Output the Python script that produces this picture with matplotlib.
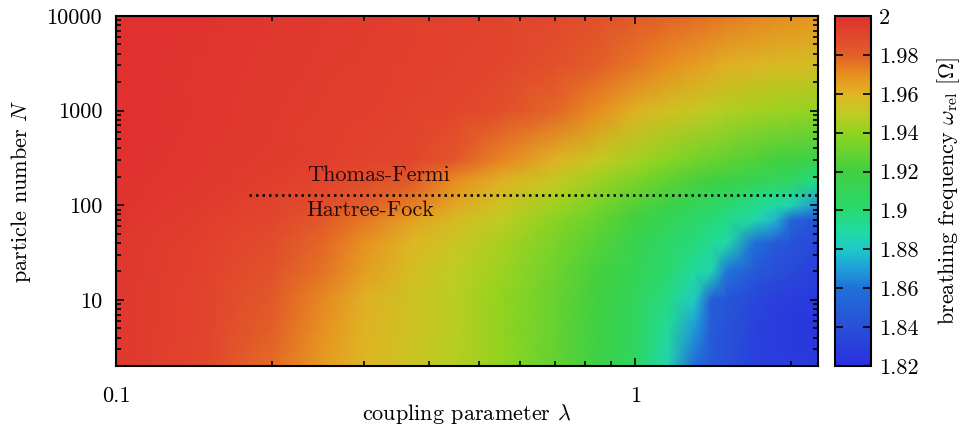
import numpy as np
import matplotlib
matplotlib.use('Agg')
import matplotlib.pyplot as plt
from matplotlib.colors import LinearSegmentedColormap
from matplotlib.ticker import FixedLocator, NullFormatter, FixedFormatter

plt.rcParams['font.family'] = 'serif'
plt.rcParams['font.serif'] = ['cmr10']
plt.rcParams['mathtext.fontset'] = 'cm'
plt.rcParams['axes.formatter.use_mathtext'] = True
plt.rcParams['font.size'] = 16

# grid
lam = [0.1, 0.15, 0.2, 0.25, 0.3, 0.37, 0.45, 0.55, 0.7, 0.85,
       1.0, 1.15, 1.3, 1.4, 1.5, 1.7, 1.85, 2.0, 2.25]
npart = [2, 5, 10, 20, 40, 70, 100, 180, 300, 1000, 3000, 10000]
# breathing frequency, rows = N, cols = lambda
omega = [
    [1.9960, 1.9905, 1.9774, 1.9669, 1.9591, 1.9533, 1.9479, 1.9403, 1.9284, 1.9170,
     1.9063, 1.8874, 1.8563, 1.8458, 1.8402, 1.8300, 1.8290, 1.8283, 1.8270],
    [1.9960, 1.9909, 1.9798, 1.9692, 1.9600, 1.9537, 1.9480, 1.9405, 1.9291, 1.9181,
     1.9072, 1.8920, 1.8690, 1.8470, 1.8420, 1.8320, 1.8280, 1.8265, 1.8245],
    [1.9960, 1.9913, 1.9823, 1.9716, 1.9609, 1.9541, 1.9482, 1.9408, 1.9299, 1.9193,
     1.9083, 1.8961, 1.8817, 1.8490, 1.8441, 1.8345, 1.8296, 1.8281, 1.8260],
    [1.9970, 1.9922, 1.9855, 1.9759, 1.9656, 1.9563, 1.9498, 1.9424, 1.9312, 1.9212,
     1.9110, 1.9013, 1.8915, 1.8855, 1.8608, 1.8449, 1.8403, 1.8362, 1.8300],
    [1.9970, 1.9926, 1.9878, 1.9783, 1.9695, 1.9591, 1.9525, 1.9456, 1.9343, 1.9250,
     1.9142, 1.9050, 1.8974, 1.8928, 1.8886, 1.8596, 1.8464, 1.8419, 1.8350],
    [1.9980, 1.9936, 1.9905, 1.9826, 1.9750, 1.9650, 1.9567, 1.9494, 1.9388, 1.9290,
     1.9197, 1.9107, 1.9032, 1.8990, 1.8952, 1.8882, 1.8766, 1.8528, 1.8420],
    [1.9990, 1.9946, 1.9915, 1.9872, 1.9811, 1.9736, 1.9634, 1.9542, 1.9436, 1.9335,
     1.9250, 1.9167, 1.9094, 1.9050, 1.9011, 1.8942, 1.8894, 1.8850, 1.8680],
    [1.9990, 1.9960, 1.9930, 1.9910, 1.9880, 1.9820, 1.9700, 1.9600, 1.9510, 1.9420,
     1.9350, 1.9280, 1.9220, 1.9190, 1.9170, 1.9120, 1.9080, 1.9050, 1.8950],
    [2.0000, 1.9971, 1.9950, 1.9934, 1.9921, 1.9906, 1.9833, 1.9722, 1.9600, 1.9511,
     1.9438, 1.9380, 1.9330, 1.9300, 1.9278, 1.9239, 1.9212, 1.9187, 1.9150],
    [2.0000, 1.9975, 1.9957, 1.9943, 1.9932, 1.9919, 1.9907, 1.9868, 1.9787, 1.9699,
     1.9600, 1.9555, 1.9516, 1.9492, 1.9471, 1.9441, 1.9430, 1.9417, 1.9400],
    [2.0000, 1.9978, 1.9962, 1.9950, 1.9940, 1.9928, 1.9918, 1.9907, 1.9862, 1.9801,
     1.9750, 1.9702, 1.9660, 1.9635, 1.9611, 1.9588, 1.9577, 1.9566, 1.9550],
    [2.0000, 1.9980, 1.9965, 1.9954, 1.9944, 1.9934, 1.9924, 1.9914, 1.9901, 1.9863,
     1.9827, 1.9795, 1.9768, 1.9754, 1.9741, 1.9722, 1.9710, 1.9698, 1.9680],
]

cb_ticks = [1.82, 1.84, 1.86, 1.88, 1.9, 1.92, 1.94, 1.96, 1.98, 2.0]
cb_labels = ['1.82', '1.84', '1.86', '1.88', '1.9', '1.92', '1.94', '1.96', '1.98', '2']

tf_hf_N = 128
tf_hf_lam = [0.18, 2.25]

vmin, vmax = 1.82, 2.0
stops = [(1.82, '#2a30e0'), (1.84, '#2850d8'), (1.86, '#2070d8'), (1.87, '#20a0d8'),
         (1.88, '#20c8c8'), (1.89, '#20dca0'), (1.90, '#28d870'), (1.92, '#40d040'),
         (1.94, '#90d420'), (1.95, '#c0cc22'), (1.96, '#e0b424'), (1.97, '#e89020'),
         (1.98, '#e26028'), (2.0, '#e03030')]
cmap = LinearSegmentedColormap.from_list(
    'gp', [((v - vmin) / (vmax - vmin), c) for v, c in stops])

fig = plt.figure(figsize=(9.63, 4.32), dpi=100)
ax = fig.add_axes([116/963, 66/432, 702/963, 350/432])
cax = fig.add_axes([835/963, 66/432, 36/963, 350/432])

L, NN = np.meshgrid(lam, npart)
mesh = ax.pcolormesh(L, NN, np.array(omega), shading='gouraud', cmap=cmap,
                     vmin=vmin, vmax=vmax, rasterized=True)
ax.set_xscale('log')
ax.set_yscale('log')
ax.set_xlim(0.1, 2.25)
ax.set_ylim(2, 10000)

ax.plot(tf_hf_lam, [tf_hf_N, tf_hf_N], color='black', lw=1.8,
        linestyle=(0, (1, 1.6)))
ax.text(0.233, 165, 'Thomas-Fermi', ha='left', va='bottom', color='#2a0a0a')
ax.text(0.233, 112, 'Hartree-Fock', ha='left', va='top', color='#2a0a0a')

ax.xaxis.set_major_locator(FixedLocator([0.1, 1]))
ax.xaxis.set_major_formatter(FixedFormatter(['0.1', '1']))
ax.yaxis.set_major_locator(FixedLocator([10, 100, 1000, 10000]))
ax.yaxis.set_major_formatter(FixedFormatter(['10', '100', '1000', '10000']))
ax.xaxis.set_minor_formatter(NullFormatter())
ax.yaxis.set_minor_formatter(NullFormatter())
ax.tick_params(which='both', direction='in', top=True, right=True, width=1.2)
ax.tick_params(which='major', length=6)
ax.tick_params(which='minor', length=3.5)
ax.tick_params(axis='x', which='major', pad=15)
ax.tick_params(axis='y', which='major', pad=10)
for s in ax.spines.values():
    s.set_linewidth(1.5)

ax.set_xlabel(r'coupling parameter $\lambda$', labelpad=-3)
ax.set_ylabel(r'particle number $N$', labelpad=10)

cbar = fig.colorbar(mesh, cax=cax)
cbar.set_ticks(cb_ticks)
cbar.set_ticklabels(cb_labels)
cbar.ax.tick_params(direction='in', left=True, right=True, length=6, width=1.2, pad=6)
cbar.outline.set_linewidth(1.5)
cbar.set_label(r'breathing frequency $\omega_{\rm rel}$ [$\Omega$]', labelpad=12)

fig.savefig('out.png', dpi=100)
